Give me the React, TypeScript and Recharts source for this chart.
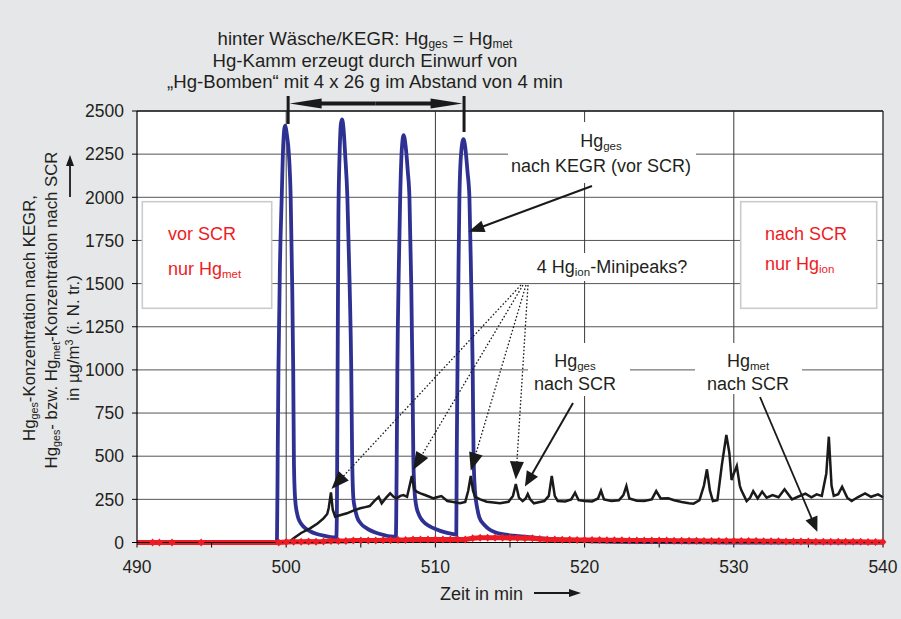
import React from 'react';
import { LineChart, Line, XAxis, YAxis, CartesianGrid, ReferenceLine } from 'recharts';

// ---------- data ----------
// Hg_ges nach KEGR (vor SCR) — blue
const blueSeries: [number, number][] = [
  [490, 0], [499.38, 0], [499.43, 500], [499.48, 1000], [499.58, 1600], [499.7, 2000], [499.8, 2300],
  [499.92, 2415], [500.05, 2360], [500.18, 2250], [500.3, 2000], [500.4, 1500], [500.47, 1000],
  [500.52, 450], [500.6, 250], [500.75, 160], [500.95, 115], [501.16, 92], [501.6, 65], [502.05, 49],
  [502.6, 38], [503.17, 30],
  [503.36, 30], [503.4, 200], [503.44, 900], [503.5, 1900], [503.58, 2250], [503.66, 2420], [503.74, 2452],
  [503.84, 2400], [503.95, 2250], [504.1, 2000], [504.25, 1500], [504.36, 1000], [504.42, 500],
  [504.5, 260], [504.6, 200], [504.74, 150], [505.0, 110], [505.4, 82], [506.3, 49], [507.19, 34],
  [507.35, 34], [507.4, 400], [507.45, 1000], [507.55, 1600], [507.64, 2000], [507.75, 2280], [507.87, 2360],
  [508.0, 2300], [508.15, 2150], [508.26, 2000], [508.38, 1500], [508.46, 1000], [508.52, 500],
  [508.6, 300], [508.7, 220], [508.9, 160], [509.15, 125], [509.6, 95], [510.05, 77], [510.6, 60], [511.2, 48],
  [511.4, 45], [511.43, 500], [511.48, 1000], [511.55, 1600], [511.61, 2000], [511.72, 2250], [511.88, 2337],
  [512.0, 2290], [512.15, 2150], [512.28, 2000], [512.4, 1500], [512.5, 1000], [512.56, 500],
  [512.65, 300], [512.8, 200], [512.95, 144], [513.3, 100], [513.6, 77], [514.0, 60], [514.5, 48],
  [515.2, 40], [516.1, 33], [517.0, 25], [518.0, 18], [519.0, 12], [520.0, 8], [522.0, 4], [525.0, 2],
  [530.0, 0], [540.0, 0],
];

// Hg_ges nach SCR — black
const blackSeries: [number, number][] = [
  [490, 0], [500.15, 0], [500.5, 24], [501.0, 55], [501.6, 82], [502.1, 110], [502.5, 140], [502.75, 165],
  [502.85, 200], [503.0, 290], [503.12, 190], [503.28, 150], [503.6, 158], [504.07, 169], [504.5, 185],
  [504.96, 198], [505.3, 205], [505.6, 211], [505.9, 240], [506.2, 265], [506.4, 227], [506.7, 260],
  [506.97, 285], [507.2, 265], [507.4, 256], [507.65, 270], [507.86, 275], [508.1, 265], [508.25, 320],
  [508.42, 385], [508.58, 310], [508.75, 294], [509.0, 285], [509.3, 275], [509.6, 265], [509.87, 256],
  [510.1, 262], [510.4, 269], [510.8, 240], [511.2, 235], [511.65, 227], [512.0, 235], [512.2, 300],
  [512.37, 385], [512.52, 300], [512.66, 265], [513.0, 250], [513.44, 236], [513.9, 232], [514.33, 227],
  [514.9, 236], [515.2, 270], [515.39, 339], [515.6, 260], [515.85, 240], [516.05, 255], [516.19, 281],
  [516.35, 250], [516.6, 227], [517.0, 235], [517.3, 240], [517.6, 270], [517.8, 385], [518.0, 270],
  [518.2, 240], [518.7, 238], [519.1, 250], [519.36, 289], [519.6, 245], [520.0, 240], [520.5, 238],
  [520.9, 255], [521.1, 300], [521.3, 250], [521.8, 240], [522.3, 245], [522.6, 275], [522.8, 327],
  [523.0, 255], [523.5, 242], [524.0, 240], [524.5, 250], [524.8, 298], [525.1, 255], [525.6, 256],
  [526.0, 245], [526.5, 235], [527.0, 228], [527.3, 225], [527.7, 245], [528.0, 330], [528.2, 424],
  [528.4, 300], [528.6, 240], [528.9, 245], [529.2, 450], [529.5, 623], [529.7, 520], [529.85, 362],
  [530.0, 400], [530.2, 443], [530.4, 330], [530.5, 304], [530.86, 240], [531.1, 260], [531.3, 298],
  [531.6, 255], [531.9, 295], [532.2, 260], [532.6, 275], [533.0, 262], [533.4, 308], [533.9, 250],
  [534.3, 265], [534.8, 283], [535.2, 262], [535.55, 279], [535.9, 270], [536.2, 400], [536.37, 613],
  [536.55, 330], [536.7, 270], [537.0, 280], [537.26, 323], [537.6, 260], [537.9, 240], [538.3, 262],
  [538.8, 285], [539.2, 265], [539.67, 279], [540.0, 262],
];

// Hg_met nach SCR — red
const redSeries: [number, number][] = [
  [490, 0], [491.05, 0], [491.5, 0], [492.35, 0], [494.3, 0], [499.5, 0],
  [500, 3], [500.5, 5], [501, 5], [501.5, 6], [502, 5], [502.5, 6], [503, 8], [503.5, 8], [504, 9],
  [504.5, 12], [505, 12], [505.5, 12], [506, 12], [506.5, 13], [507, 13], [507.5, 14], [508, 15],
  [508.5, 18], [509, 18], [509.5, 18], [510, 17], [510.5, 17], [511, 17], [511.5, 18], [512, 18],
  [512.5, 25], [513, 28], [513.5, 28], [514, 27], [514.5, 27], [515, 26], [515.5, 26], [516, 25],
  [516.5, 24], [517, 20], [517.5, 18], [518, 17], [518.5, 16], [519, 16], [519.5, 15], [520, 15],
  [520.5, 14], [521, 14], [521.5, 13], [522, 13], [522.5, 13], [523, 12], [523.5, 12], [524, 12],
  [524.5, 11], [525, 11], [525.5, 11], [526, 10], [526.5, 10], [527, 10], [527.5, 10], [528, 9],
  [528.5, 9], [529, 9], [529.5, 9], [530, 8], [530.5, 8], [531, 8], [531.5, 8], [532, 7], [532.5, 7],
  [533, 7], [533.5, 6], [534, 6], [534.5, 6], [535, 6], [535.5, 5], [536, 5], [536.5, 5], [537, 5],
  [537.5, 4], [538, 4], [538.5, 4], [539, 3], [539.5, 3], [540, 3],
];

const xTicks = [490, 495, 500, 505, 510, 515, 520, 525, 530, 535, 540];
const xLabelTicks = [490, 500, 510, 520, 530, 540];
const yTicks = [0, 250, 500, 750, 1000, 1250, 1500, 1750, 2000, 2250, 2500];
const xGrid = [500, 510, 520, 530];

// ---------- layout ----------
const W = 901;
const H = 619;
const PL = 137, PR = 883, PT = 111, PB = 542.5;
const X_MIN = 490, X_MAX = 540, Y_MAX = 2500;
const X = (t: number) => PL + ((t - X_MIN) / (X_MAX - X_MIN)) * (PR - PL);
const Y = (v: number) => PB - (v / Y_MAX) * (PB - PT);

const FONT = '"Liberation Sans", Arial, Helvetica, sans-serif';
const INK = '#231f20';
const BLUE = '#2e3192';
const RED = '#ed1c24';
const BLACK = '#1a1a1a';
const BG = '#e6e7e9';

const rows = (s: [number, number][]) => s.map(([t, v]) => ({ t, v }));

type Part = string | { sub: string } | { sup: string };

function Rich({ x, y, parts, anchor = 'middle', size = 18, fill = INK, rotate = false }:
  { x: number; y: number; parts: Part[]; anchor?: string; size?: number; fill?: string; rotate?: boolean }) {
  const small = size * 0.64;
  const nodes: React.ReactNode[] = [];
  let off = 0;
  parts.forEach((p, i) => {
    if (typeof p === 'string') {
      nodes.push(<tspan key={i} dy={-off} fontSize={size}>{p}</tspan>);
      off = 0;
    } else if ('sub' in p) {
      const d = size * 0.18;
      nodes.push(<tspan key={i} dy={d - off} fontSize={small}>{p.sub}</tspan>);
      off = d;
    } else {
      const d = -size * 0.38;
      nodes.push(<tspan key={i} dy={d - off} fontSize={small}>{p.sup}</tspan>);
      off = d;
    }
  });
  return (
    <text x={x} y={y} textAnchor={anchor as any} fontFamily={FONT} fill={fill}
      transform={rotate ? `rotate(-90 ${x} ${y})` : undefined}>
      {nodes}
    </text>
  );
}

function Arrow({ x1, y1, x2, y2, len = 15, hw = 6, width = 2, dash, color = BLACK }:
  { x1: number; y1: number; x2: number; y2: number; len?: number; hw?: number; width?: number; dash?: string; color?: string }) {
  const dx = x2 - x1, dy = y2 - y1;
  const L = Math.hypot(dx, dy);
  const ux = dx / L, uy = dy / L;
  const bx = x2 - ux * len, by = y2 - uy * len;
  const px = -uy, py = ux;
  return (
    <g>
      <line x1={x1} y1={y1} x2={bx + ux * 2} y2={by + uy * 2} stroke={color} strokeWidth={width} strokeDasharray={dash} />
      <polygon points={`${x2},${y2} ${bx + px * hw},${by + py * hw} ${bx - px * hw},${by - py * hw}`} fill={color} />
    </g>
  );
}

const RedDot = (props: any) => {
  const { cx, cy, index } = props;
  if (index === 0 || cx == null) return <g key={`d${index}`} />;
  return <path key={`d${index}`} d={`M${cx},${cy - 4} L${cx + 3.4},${cy} L${cx},${cy + 4} L${cx - 3.4},${cy} Z`} fill={RED} />;
};

const XTick = (props: any) => {
  const { x, y, payload } = props;
  if (!xLabelTicks.includes(payload.value)) return <g />;
  return (
    <text x={x} y={y} dy="0.71em" textAnchor="middle" fontFamily={FONT} fontSize={17.5} fill={INK}>
      {payload.value}
    </text>
  );
};

export default function App() {
  return (
    <div style={{ position: 'absolute', left: 0, top: 0, width: W, height: H, background: BG, overflow: 'hidden' }}>
      <LineChart width={W} height={H} margin={{ top: PT, right: W - PR, bottom: H - PB - 30, left: 0 }}>
        <CartesianGrid vertical={false} horizontal stroke="#555" strokeWidth={1} fill="#ffffff" fillOpacity={1} />
        <XAxis dataKey="t" type="number" domain={[X_MIN, X_MAX]} ticks={xTicks} height={30}
          tick={<XTick />} tickSize={5} tickMargin={13}
          axisLine={{ stroke: '#000', strokeWidth: 1.2 }} tickLine={{ stroke: '#000' }} />
        <YAxis type="number" domain={[0, Y_MAX]} ticks={yTicks} width={PL}
          tick={{ fontFamily: FONT, fontSize: 17.5, fill: INK }} tickSize={5} tickMargin={8}
          axisLine={{ stroke: '#000', strokeWidth: 1.2 }} tickLine={{ stroke: '#000' }} />
        {xGrid.map((g) => (
          <ReferenceLine key={g} x={g} stroke="#3a3a3a" strokeWidth={1} />
        ))}
        <ReferenceLine x={X_MAX} stroke="#222" strokeWidth={1.3} />
        <ReferenceLine y={Y_MAX} stroke="#222" strokeWidth={1.3} />
        <Line data={rows(blueSeries)} dataKey="v" type="monotone" stroke={BLUE} strokeWidth={3.8}
          dot={false} isAnimationActive={false} />
        <Line data={rows(blackSeries)} dataKey="v" type="linear" stroke={BLACK} strokeWidth={2.5}
          dot={false} isAnimationActive={false} />
        <Line data={rows(redSeries)} dataKey="v" type="linear" stroke={RED} strokeWidth={5}
          dot={RedDot} isAnimationActive={false} />
      </LineChart>

      <svg width={W} height={H} style={{ position: 'absolute', left: 0, top: 0, pointerEvents: 'none' }}>
        {/* white label backgrounds */}
        <rect x={508} y={122} width={188} height={61} fill="#fff" />
        <rect x={515} y={253} width={193} height={28} fill="#fff" />
        <rect x={528} y={343} width={102} height={53} fill="#fff" />
        <rect x={695} y={343} width={107} height={51} fill="#fff" />

        {/* boxes */}
        <rect x={142.3} y={201.7} width={129.4} height={106.6} fill="#fff" stroke="#c8cbd0" strokeWidth={1.6} />
        <rect x={740.7} y={201.7} width={136} height={106.6} fill="#fff" stroke="#c8cbd0" strokeWidth={1.6} />
        <Rich x={168} y={239.5} anchor="start" fill={RED} parts={['vor SCR']} />
        <Rich x={168} y={275} anchor="start" fill={RED} parts={['nur Hg', { sub: 'met' }]} />
        <Rich x={765} y={240} anchor="start" fill={RED} parts={['nach SCR']} />
        <Rich x={765} y={270} anchor="start" fill={RED} parts={['nur Hg', { sub: 'ion' }]} />

        {/* top text */}
        <Rich x={365} y={45} size={18.6} parts={['hinter Wäsche/KEGR: Hg', { sub: 'ges' }, ' = Hg', { sub: 'met' }]} />
        <Rich x={365} y={67} size={18.6} parts={['Hg-Kamm erzeugt durch Einwurf von']} />
        <Rich x={365} y={87.5} size={18.6} parts={['\u201EHg-Bomben\u201C mit 4 x 26 g im Abstand von 4 min']} />

        {/* double arrow */}
        <line x1={X(500.13)} y1={96} x2={X(500.13)} y2={124} stroke={BLACK} strokeWidth={3} />
        <line x1={X(511.92)} y1={96} x2={X(511.92)} y2={132} stroke={BLACK} strokeWidth={3} />
        <Arrow x1={X(506)} y1={103.5} x2={X(500.13) + 1.5} y2={103.5} len={32} hw={5} width={4} />
        <Arrow x1={X(506)} y1={103.5} x2={X(511.92) - 1.5} y2={103.5} len={32} hw={5} width={4} />

        {/* Hg_ges nach KEGR label */}
        <Rich x={601} y={147} parts={['Hg', { sub: 'ges' }]} />
        <Rich x={601} y={172} parts={['nach KEGR (vor SCR)']} />
        <Arrow x1={592} y1={186} x2={X(512.15) + 1} y2={Y(1800)} len={16} hw={6} width={2} />

        {/* Minipeaks */}
        <Rich x={612} y={273} parts={['4 Hg', { sub: 'ion' }, '-Minipeaks?']} />
        <Arrow x1={521} y1={285} x2={X(503.0) + 0.5} y2={Y(310)} len={18} hw={7} width={1.3} dash="1.6 2" />
        <Arrow x1={523} y1={285} x2={X(508.5)} y2={Y(420)} len={18} hw={7} width={1.3} dash="1.6 2" />
        <Arrow x1={526} y1={285} x2={X(512.37)} y2={Y(415)} len={18} hw={7} width={1.3} dash="1.6 2" />
        <Arrow x1={528} y1={285} x2={X(515.39)} y2={Y(365)} len={18} hw={7} width={1.3} dash="1.6 2" />

        {/* Hg_ges nach SCR */}
        <Rich x={575} y={367} parts={['Hg', { sub: 'ges' }]} />
        <Rich x={575} y={390} parts={['nach SCR']} />
        <Arrow x1={573} y1={403} x2={X(516.0)} y2={Y(325)} len={15} hw={6.5} width={2} />

        {/* Hg_met nach SCR */}
        <Rich x={748} y={367} parts={['Hg', { sub: 'met' }]} />
        <Rich x={748} y={390} parts={['nach SCR']} />
        <Arrow x1={760} y1={397} x2={X(535.6)} y2={Y(62)} len={15} hw={6.5} width={1.8} />

        {/* y axis title */}
        <Rich x={35} y={318} rotate size={16.8} parts={['Hg', { sub: 'ges' }, '-Konzentration nach KEGR,']} />
        <Rich x={57} y={310} rotate size={16.8}
          parts={['Hg', { sub: 'ges' }, '- bzw. Hg', { sub: 'met' }, '-Konzentration nach SCR']} />
        <Rich x={79} y={338} rotate size={16.8} parts={['in µg/m', { sup: '3' }, ' (i. N. tr.)']} />
        <Arrow x1={70} y1={197} x2={70} y2={155} len={11} hw={4} width={1.8} />

        {/* x axis title */}
        <Rich x={440} y={600} anchor="start" parts={['Zeit in min']} />
        <Arrow x1={534} y1={593} x2={581} y2={593} len={12} hw={4} width={1.8} />
      </svg>
    </div>
  );
}
